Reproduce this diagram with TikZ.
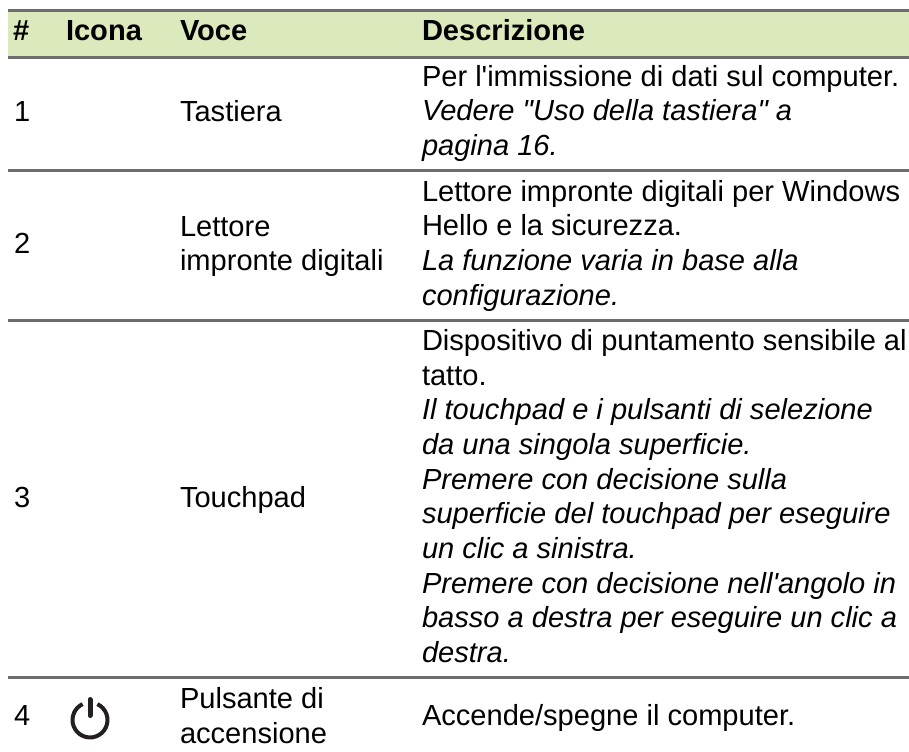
\documentclass[tikz,border=0pt]{standalone}
\usepackage{fontspec}
\newfontfamily\tablefont{Liberation Sans}
\definecolor{headfill}{HTML}{DBE9BC}
\definecolor{rulegrey}{HTML}{6D6D6D}
\definecolor{iconblk}{HTML}{231F20}
\tikzset{
  x=0.75pt,y=-0.75pt,
  txt/.style={inner sep=0pt,outer sep=0pt,anchor=base west,font=\tablefont\fontsize{21.8}{27}\selectfont,text=black},
  hd/.style={txt,font=\tablefont\fontsize{21.8}{27}\selectfont\bfseries},
  it/.style={txt,font=\tablefont\fontsize{21.8}{27}\selectfont\itshape},
  rulel/.style={draw=rulegrey,line width=2.25pt}
}
\begin{document}
\begin{tikzpicture}
\useasboundingbox (0,0) rectangle (909,751);
\fill[headfill] (8,10.5) rectangle (909,57);
\coordinate (l0a) at (8,10.5); \coordinate (l0b) at (909,10.5);
\coordinate (l1a) at (8,57); \coordinate (l1b) at (909,57);
\coordinate (l2a) at (8,170.5); \coordinate (l2b) at (909,170.5);
\coordinate (l3a) at (8,320.5); \coordinate (l3b) at (909,320.5);
\coordinate (l4a) at (8,677.5); \coordinate (l4b) at (909,677.5);
\foreach \i in {0,...,4} \draw[rulel] (l\i a) -- (l\i b);
\node[hd] (h1) at (13,40) {\#};
\node[hd] (h2) at (66,40) {Icona};
\node[hd] (h3) at (180,40) {Voce};
\node[hd] (h4) at (422,40) {Descrizione};
\node[txt] (n1) at (14,121) {1};
\node[txt] (v1) at (180,121) {Tastiera};
\node[txt] (d11) at (422,86) {Per l'immissione di dati sul computer.};
\node[it] (d12) at (422,120.7) {Vedere "Uso della tastiera" a};
\node[it] (d13) at (422,155.4) {pagina 16.};
\node[txt] (n2) at (14,253) {2};
\node[txt] (v21) at (180,236) {Lettore};
\node[txt] (v22) at (180,270.5) {impronte digitali};
\node[txt] (d21) at (422,201) {Lettore impronte digitali per Windows};
\node[txt] (d22) at (422,235.7) {Hello e la sicurezza.};
\node[it] (d23) at (422,270.4) {La funzione varia in base alla};
\node[it] (d24) at (422,305) {configurazione.};
\node[txt] (n3) at (14,507) {3};
\node[txt] (v3) at (180,507) {Touchpad};
\node[txt] (d31) at (422,350) {Dispositivo di puntamento sensibile al};
\node[txt] (d32) at (422,385) {tatto.};
\node[it] (d33) at (422,419.7) {Il touchpad e i pulsanti di selezione};
\node[it] (d34) at (422,454.4) {da una singola superficie.};
\node[it] (d35) at (422,489) {Premere con decisione sulla};
\node[it] (d36) at (422,523.7) {superficie del touchpad per eseguire};
\node[it] (d37) at (422,558.4) {un clic a sinistra.};
\node[it] (d38) at (422,593) {Premere con decisione nell'angolo in};
\node[it] (d39) at (422,627.7) {basso a destra per eseguire un clic a};
\node[it] (d310) at (422,662.4) {destra.};
\node[txt] (n4) at (14,725) {4};
\node[txt] (v41) at (180,708) {Pulsante di};
\node[txt] (v42) at (180,743) {accensione};
\node[txt] (d41) at (422,725) {Accende/spegne il computer.};
\draw[iconblk,line width=3pt] (97.4,704.1) arc[start angle=-65,end angle=245,radius=17.5];
\draw[iconblk,line width=3.75pt,line cap=round] (90,699.5) -- (90,715.5);
\end{tikzpicture}
\end{document}
